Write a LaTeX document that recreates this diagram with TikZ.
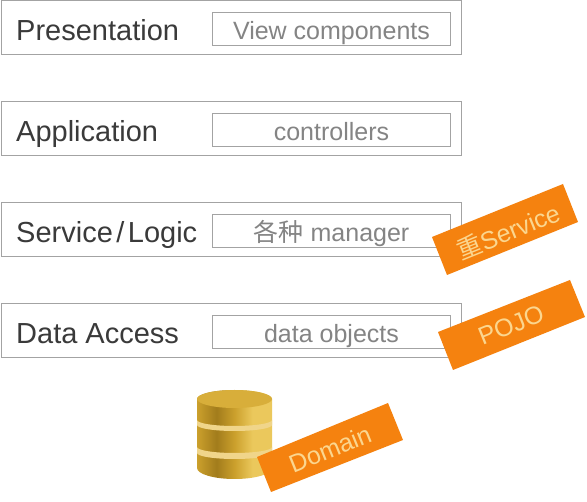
\documentclass[tikz,border=0pt]{standalone}
\usepackage{fontspec}
\setmainfont{Liberation Sans}
\newfontfamily\cjk{Noto Sans CJK SC}
\definecolor{outerline}{HTML}{A3A3A3}
\definecolor{innerline}{HTML}{A3A3A3}
\definecolor{labeltext}{HTML}{3A3A3A}
\definecolor{innertext}{HTML}{848484}
\definecolor{tagfill}{HTML}{F5820F}
\definecolor{tagtext}{HTML}{FBD68F}
\definecolor{golddark}{HTML}{A27C1C}
\definecolor{goldmid}{HTML}{CBA02C}
\definecolor{goldlight}{HTML}{EBC85C}
\definecolor{goldband}{HTML}{F0D58A}
\definecolor{goldtop}{HTML}{D8AE3A}
\pgfdeclarehorizontalshading{goldbody}{100bp}{
 color(0bp)=(goldmid); color(25bp)=(goldmid); color(38bp)=(golddark); color(50bp)=(goldmid);
 color(62bp)=(goldlight); color(75bp)=(goldlight); color(88bp)=(goldmid); color(100bp)=(goldlight)}
\tikzset{
 x=1pt,y=-1pt,
 outerbox/.style={draw=outerline,line width=1pt,fill=white},
 innerbox/.style={draw=innerline,line width=1pt,fill=white},
 layerlabel/.style={anchor=base west,text=labeltext,font=\fontsize{29}{29}\selectfont,inner sep=0pt},
 innerlabel/.style={anchor=base,text=innertext,font=\fontsize{25}{25}\selectfont,inner sep=0pt},
 tag/.style={fill=tagfill,draw=none},
 taglabel/.style={anchor=center,text=tagtext,font=\fontsize{25}{25}\selectfont,inner sep=0pt,rotate=22},
 goldseg/.style={shading=goldbody,draw=none},
}
\newcommand{\layer}[4]{%
 \draw[outerbox] (1,#1) rectangle (461,#1+54);
 \draw[innerbox] (212,#1+12) rectangle (450,#1+45);
 \node[layerlabel] (#4a) at (16,#1+40) {#2};
 \node[innerlabel] (#4b) at (331.5,#1+38.7) {#3};
}
\begin{document}
\begin{tikzpicture}
\useasboundingbox (0,0) rectangle (587,502);
\fill[white] (0,0) rectangle (587,502);
\layer{1}{Presentation}{View components}{p}
\layer{102}{Application}{controllers}{a}
\layer{203}{Service\kern3.5pt/\kern3.5pt Logic}{{\cjk 各种} manager}{s}
\layer{304}{Data Access}{data objects}{d}
% database
\shade[goldseg] (197,399) arc[start angle=180,end angle=360,x radius=37.5,y radius=9] -- (272,468) arc[start angle=0,end angle=180,x radius=37.5,y radius=11] -- cycle;
\fill[goldband] (197,420) arc[start angle=180,end angle=0,x radius=37.5,y radius=6] -- (272,425) arc[start angle=0,end angle=180,x radius=37.5,y radius=6] -- cycle;
\fill[goldband] (197,447) arc[start angle=180,end angle=0,x radius=37.5,y radius=6] -- (272,453) arc[start angle=0,end angle=180,x radius=37.5,y radius=6] -- cycle;
\fill[goldtop] (234.5,399) ellipse[x radius=37.5,y radius=9];
% tags
\fill[tag] (432,237) -- (563,184) -- (578,222) -- (447,275) -- cycle;
\node[taglabel] (t1) at (508,231) {{\cjk 重}Service};
\fill[tag] (438,332) -- (570,280) -- (585,317) -- (453,370) -- cycle;
\node[taglabel] (t2) at (511,325) {POJO};
\fill[tag] (257,457) -- (388,403) -- (403,440) -- (271,492) -- cycle;
\node[taglabel] (t3) at (330,449) {Domain};
\end{tikzpicture}
\end{document}
